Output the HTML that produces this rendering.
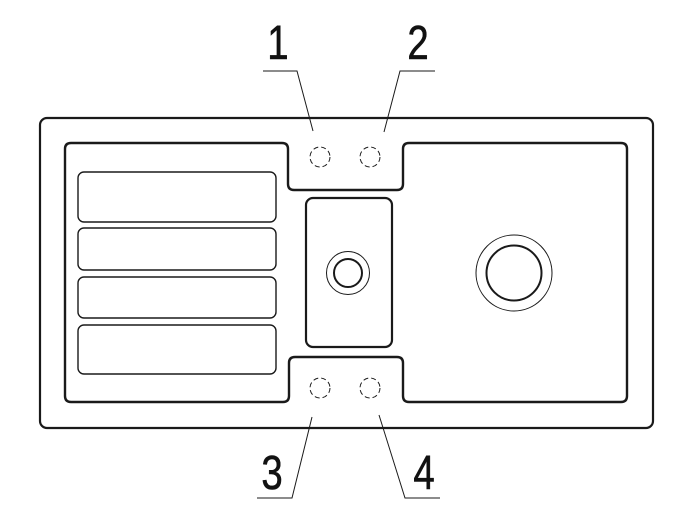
<!DOCTYPE html>
<html><head><meta charset="utf-8"><style>
html,body{margin:0;padding:0;background:#fff;}
svg{display:block;}
</style></head><body>
<svg width="690" height="520" viewBox="0 0 690 520" xmlns="http://www.w3.org/2000/svg">
<g fill="none" stroke="#1a1a1a">
<rect x="40" y="118" width="613" height="310" rx="7" stroke-width="2.2"/>
<path d="M71 143 H282 Q288 143 288 149 V184 Q288 190 294 190 H397 Q403 190 403 184 V149 Q403 143 409 143 H621 Q627 143 627 149 V396 Q627 402 621 402 H409 Q403 402 403 396 V363 Q403 357 397 357 H295 Q289 357 289 363 V396 Q289 402 283 402 H71 Q65 402 65 396 V149 Q65 143 71 143 Z" stroke-width="2.4"/>
<rect x="78" y="172" width="198" height="50" rx="6" stroke-width="1.4"/>
<rect x="78" y="228" width="198" height="42" rx="6" stroke-width="1.4"/>
<rect x="78" y="277" width="198" height="41" rx="6" stroke-width="1.4"/>
<rect x="78" y="325" width="198" height="49" rx="6" stroke-width="1.4"/>
<rect x="306" y="198" width="86" height="149" rx="7" stroke-width="2.2"/>
<circle cx="348" cy="273" r="21.5" stroke-width="1"/>
<circle cx="348" cy="273" r="14" stroke-width="2"/>
<circle cx="514" cy="273" r="38" stroke-width="1"/>
<circle cx="514" cy="273" r="27.5" stroke-width="2"/>
<g stroke-width="1" stroke-dasharray="5 3">
<circle cx="320" cy="157" r="10"/><circle cx="370" cy="157" r="10"/>
<circle cx="320" cy="388" r="10"/><circle cx="370" cy="388" r="10"/>
</g>
<g stroke-width="1">
<path d="M263 71 H297 L313 131"/>
<path d="M435 71 H400 L384 132"/>
<path d="M257 498 H292 L312 417"/>
<path d="M440 498 H405 L379 415"/>
</g>
</g>
<g font-family="Liberation Sans, sans-serif" font-size="48" fill="#111" stroke="#111" stroke-width="0.6">
<text x="278" y="59" text-anchor="middle" transform="translate(278 0) scale(0.8 1) translate(-278 0)">1</text>
<text x="418" y="59" text-anchor="middle" transform="translate(418 0) scale(0.8 1) translate(-418 0)">2</text>
<text x="272" y="489" text-anchor="middle" transform="translate(272 0) scale(0.8 1) translate(-272 0)">3</text>
<text x="424" y="489" text-anchor="middle" transform="translate(424 0) scale(0.8 1) translate(-424 0)">4</text>
</g>
</svg>
</body></html>
